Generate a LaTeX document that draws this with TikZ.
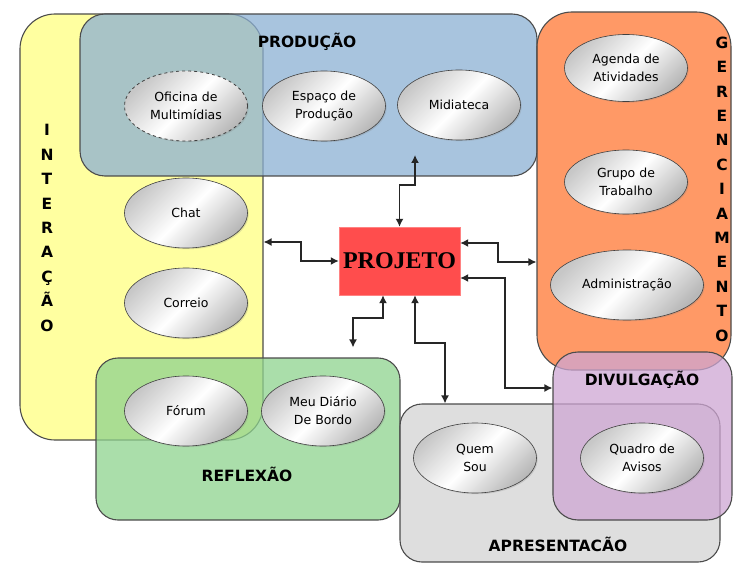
\documentclass[tikz,border=0pt]{standalone}
\usepackage{fontspec}
\setmainfont{DejaVu Sans}
\newfontfamily\projfont{Liberation Serif}
\usetikzlibrary{shapes.geometric}
\usetikzlibrary{arrows.meta}
\usetikzlibrary{shadows}
\definecolor{interacaofill}{RGB}{255,255,128}
\definecolor{producaofill}{RGB}{139,176,211}
\definecolor{gerenciafill}{RGB}{255,119,51}
\definecolor{reflexaofill}{RGB}{142,211,142}
\definecolor{apresentafill}{RGB}{211,211,211}
\definecolor{divulgafill}{RGB}{206,166,211}
\definecolor{projetofill}{RGB}{255,77,77}
\tikzstyle{area}=[draw=black!70, line width=1.1pt, fill opacity=0.75, inner sep=0pt]
\tikzstyle{topic}=[ellipse, draw=black!75, semithick, minimum width=123pt, minimum height=70pt, inner sep=0pt, align=center, top color=black!22, bottom color=black!28, middle color=white, shading angle=45, drop shadow={shadow xshift=1.2pt, shadow yshift=-1.2pt, opacity=0.25}, font=\fontsize{12.5}{18}\selectfont]
\tikzstyle{heading}=[font=\bfseries\fontsize{15.5}{18}\selectfont]
\tikzstyle{vertical heading}=[align=center, font=\bfseries\fontsize{15.5}{24.4}\selectfont]
\tikzstyle{connector}=[draw=black!85, line width=1.4pt, >={Latex[length=8pt,width=8pt]}, <->]

\begin{document}
\begin{tikzpicture}[x=1pt, y=-1pt]
      \useasboundingbox (0,0) rectangle (733,564);
      \node[area, fill=interacaofill, rounded corners=35pt, minimum width=243pt, minimum height=426pt] (interacao) at (141.5,227) {};
      \node[area, fill=producaofill, rounded corners=25pt, minimum width=457pt, minimum height=162pt] (producao) at (308.5,95) {};
      \node[area, fill=gerenciafill, rounded corners=35pt, minimum width=194pt, minimum height=358pt] (gerencia) at (634,191) {};
      \node[area, fill=reflexaofill, rounded corners=22pt, minimum width=304pt, minimum height=162pt] (reflexao) at (248,439) {};
      \node[area, fill=apresentafill, rounded corners=22pt, minimum width=320pt, minimum height=158pt] (apresenta) at (560,483) {};
      \node[area, fill=divulgafill, rounded corners=25pt, minimum width=179pt, minimum height=168pt] (divulga) at (642.5,436) {};
      \node[heading] (producaotitle) at (307,42) {PRODUÇÃO};
      \node[heading] (reflexaotitle) at (247,474) {REFLEXÃO};
      \node[heading] (divulgatitle) at (642,380) {DIVULGAÇÃO};
      \node[heading] (apresentatitle) at (558,544) {APRESENTACÃO};
      \node[vertical heading] (interacaotitle) at (47,228) {I\\N\\T\\E\\R\\A\\Ç\\Ã\\O};
      \node[vertical heading] (gerenciatitle) at (722,189) {G\\E\\R\\E\\N\\C\\I\\A\\M\\E\\N\\T\\O};
      \node[topic, dashed, thick] (oficina) at (186,106) {Oficina de\\Multimídias};
      \node[topic] (espaco) at (324,106) {Espaço de\\Produção};
      \node[topic] (midiateca) at (459,105) {Midiateca};
      \node[topic, minimum height=67pt] (agenda) at (626,68) {Agenda de\\Atividades};
      \node[topic, minimum height=64pt] (grupo) at (626,182) {Grupo de\\Trabalho};
      \node[topic, minimum width=153pt] (admin) at (627,285) {Administração};
      \node[topic] (chat) at (186,213) {Chat};
      \node[topic] (correio) at (186,303) {Correio};
      \node[topic] (forum) at (186,411) {Fórum};
      \node[topic] (diario) at (323,411) {Meu Diário\\De Bordo};
      \node[topic] (quemsou) at (475,458) {Quem\\Sou};
      \node[topic] (quadro) at (642,458) {Quadro de\\Avisos};
      \node[draw=projetofill!70!white, fill=projetofill, minimum width=121pt, minimum height=68pt, font=\projfont\bfseries\fontsize{24}{28}\selectfont] (projeto) at (399.5,261) {PROJETO};
      \coordinate (producaoin) at (415,155);
      \draw[connector] (projeto.west) -- ++(-38,0) |- (interacao.east |- 0,242);
      \draw[connector] (projeto.north) |- (415,185) -- (producaoin);
      \draw[connector] (projeto.east |- 0,243) -- (498,243) |- (gerencia.west |- 0,262);
      \draw[connector] (projeto.east |- 0,278) -- (505,278) |- (divulga.west |- 0,388);
      \draw[connector] (projeto.south -| 415,0) |- (445,343) -- (apresenta.north -| 445,0);
      \draw[connector, shorten >=10pt] (projeto.south -| 383,0) |- (353,318) -- (reflexao.north -| 353,0);
    \end{tikzpicture}
\end{document}
